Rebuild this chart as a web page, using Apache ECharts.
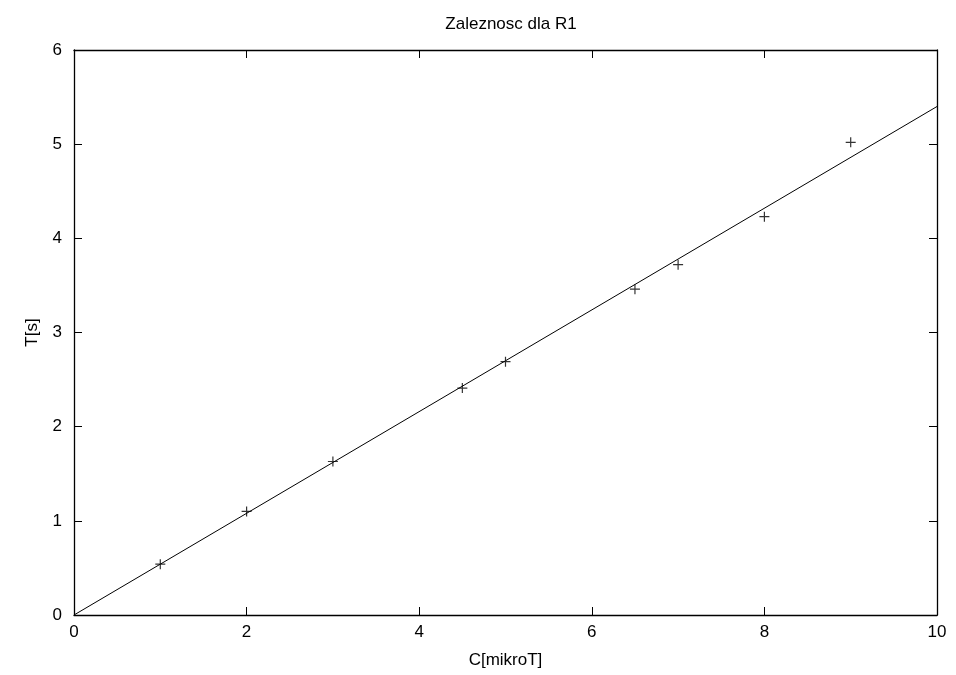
<!DOCTYPE html>
<html>
<head>
<meta charset="utf-8">
<script src="https://cdn.jsdelivr.net/npm/echarts@6/dist/echarts.min.js"></script>
<style>html,body{margin:0;padding:0;background:#fff}#c{width:956px;height:675px}</style>
</head>
<body>
<div id="c"></div>
<script>
var titleText = 'Zaleznosc dla R1';
var xName = 'C[mikroT]';
var yName = 'T[s]';
var xValues = [1, 2, 3, 4.5, 5, 6.5, 7, 8, 9];
var yValues = [0.54, 1.10, 1.63, 2.41, 2.69, 3.46, 3.72, 4.23, 5.02];
var fitX = [0, 10];
var fitY = [0, 5.4];

var pts = xValues.map(function (x, i) { return [x, yValues[i]]; });
var fit = fitX.map(function (x, i) { return [x, fitY[i]]; });
var font = 'Liberation Sans, Arial, sans-serif';
var fs = 17;

var chart = echarts.init(document.getElementById('c'), null, {renderer: 'canvas'});
var baseAxis = {
  axisLine: {show: true, onZero: false, lineStyle: {color: '#000', width: 1.3}},
  axisTick: {show: true, inside: true, length: 8, lineStyle: {color: '#000', width: 1}},
  splitLine: {show: false},
  axisLabel: {color: '#000', fontFamily: font, fontSize: fs}
};
chart.setOption({
  animation: false,
  backgroundColor: '#fff',
  title: {text: titleText, left: 506, top: 11, textAlign: 'center',
    textStyle: {fontFamily: font, fontSize: fs, fontWeight: 'normal', color: '#000'}},
  grid: {left: 74, right: 19, top: 50, bottom: 60},
  xAxis: [
    Object.assign({}, baseAxis, {type: 'value', min: 0, max: 10, interval: 2, position: 'bottom',
      name: xName, nameLocation: 'middle', nameGap: 37,
      nameTextStyle: {fontFamily: font, fontSize: fs, color: '#000'},
      axisLabel: {color: '#000', fontFamily: font, fontSize: fs, margin: 9}}),
    Object.assign({}, baseAxis, {type: 'value', min: 0, max: 10, interval: 2, position: 'top',
      axisLabel: {show: false}})
  ],
  yAxis: [
    Object.assign({}, baseAxis, {type: 'value', min: 0, max: 6, interval: 1, position: 'left',
      name: yName, nameLocation: 'middle', nameGap: 33, nameRotate: 90,
      nameTextStyle: {fontFamily: font, fontSize: fs, color: '#000'},
      axisLabel: {color: '#000', fontFamily: font, fontSize: fs, margin: 12}}),
    Object.assign({}, baseAxis, {type: 'value', min: 0, max: 6, interval: 1, position: 'right',
      axisLabel: {show: false}})
  ],
  series: [
    {type: 'line', data: fit, symbol: 'none', lineStyle: {color: '#000', width: 1}, silent: true},
    {type: 'scatter', data: pts,
      symbol: 'path://M0,4.4H10V5.6H0Z M4.4,0H5.6V10H4.4Z', symbolSize: 10,
      itemStyle: {color: '#000'}}
  ]
});
</script>
</body>
</html>
